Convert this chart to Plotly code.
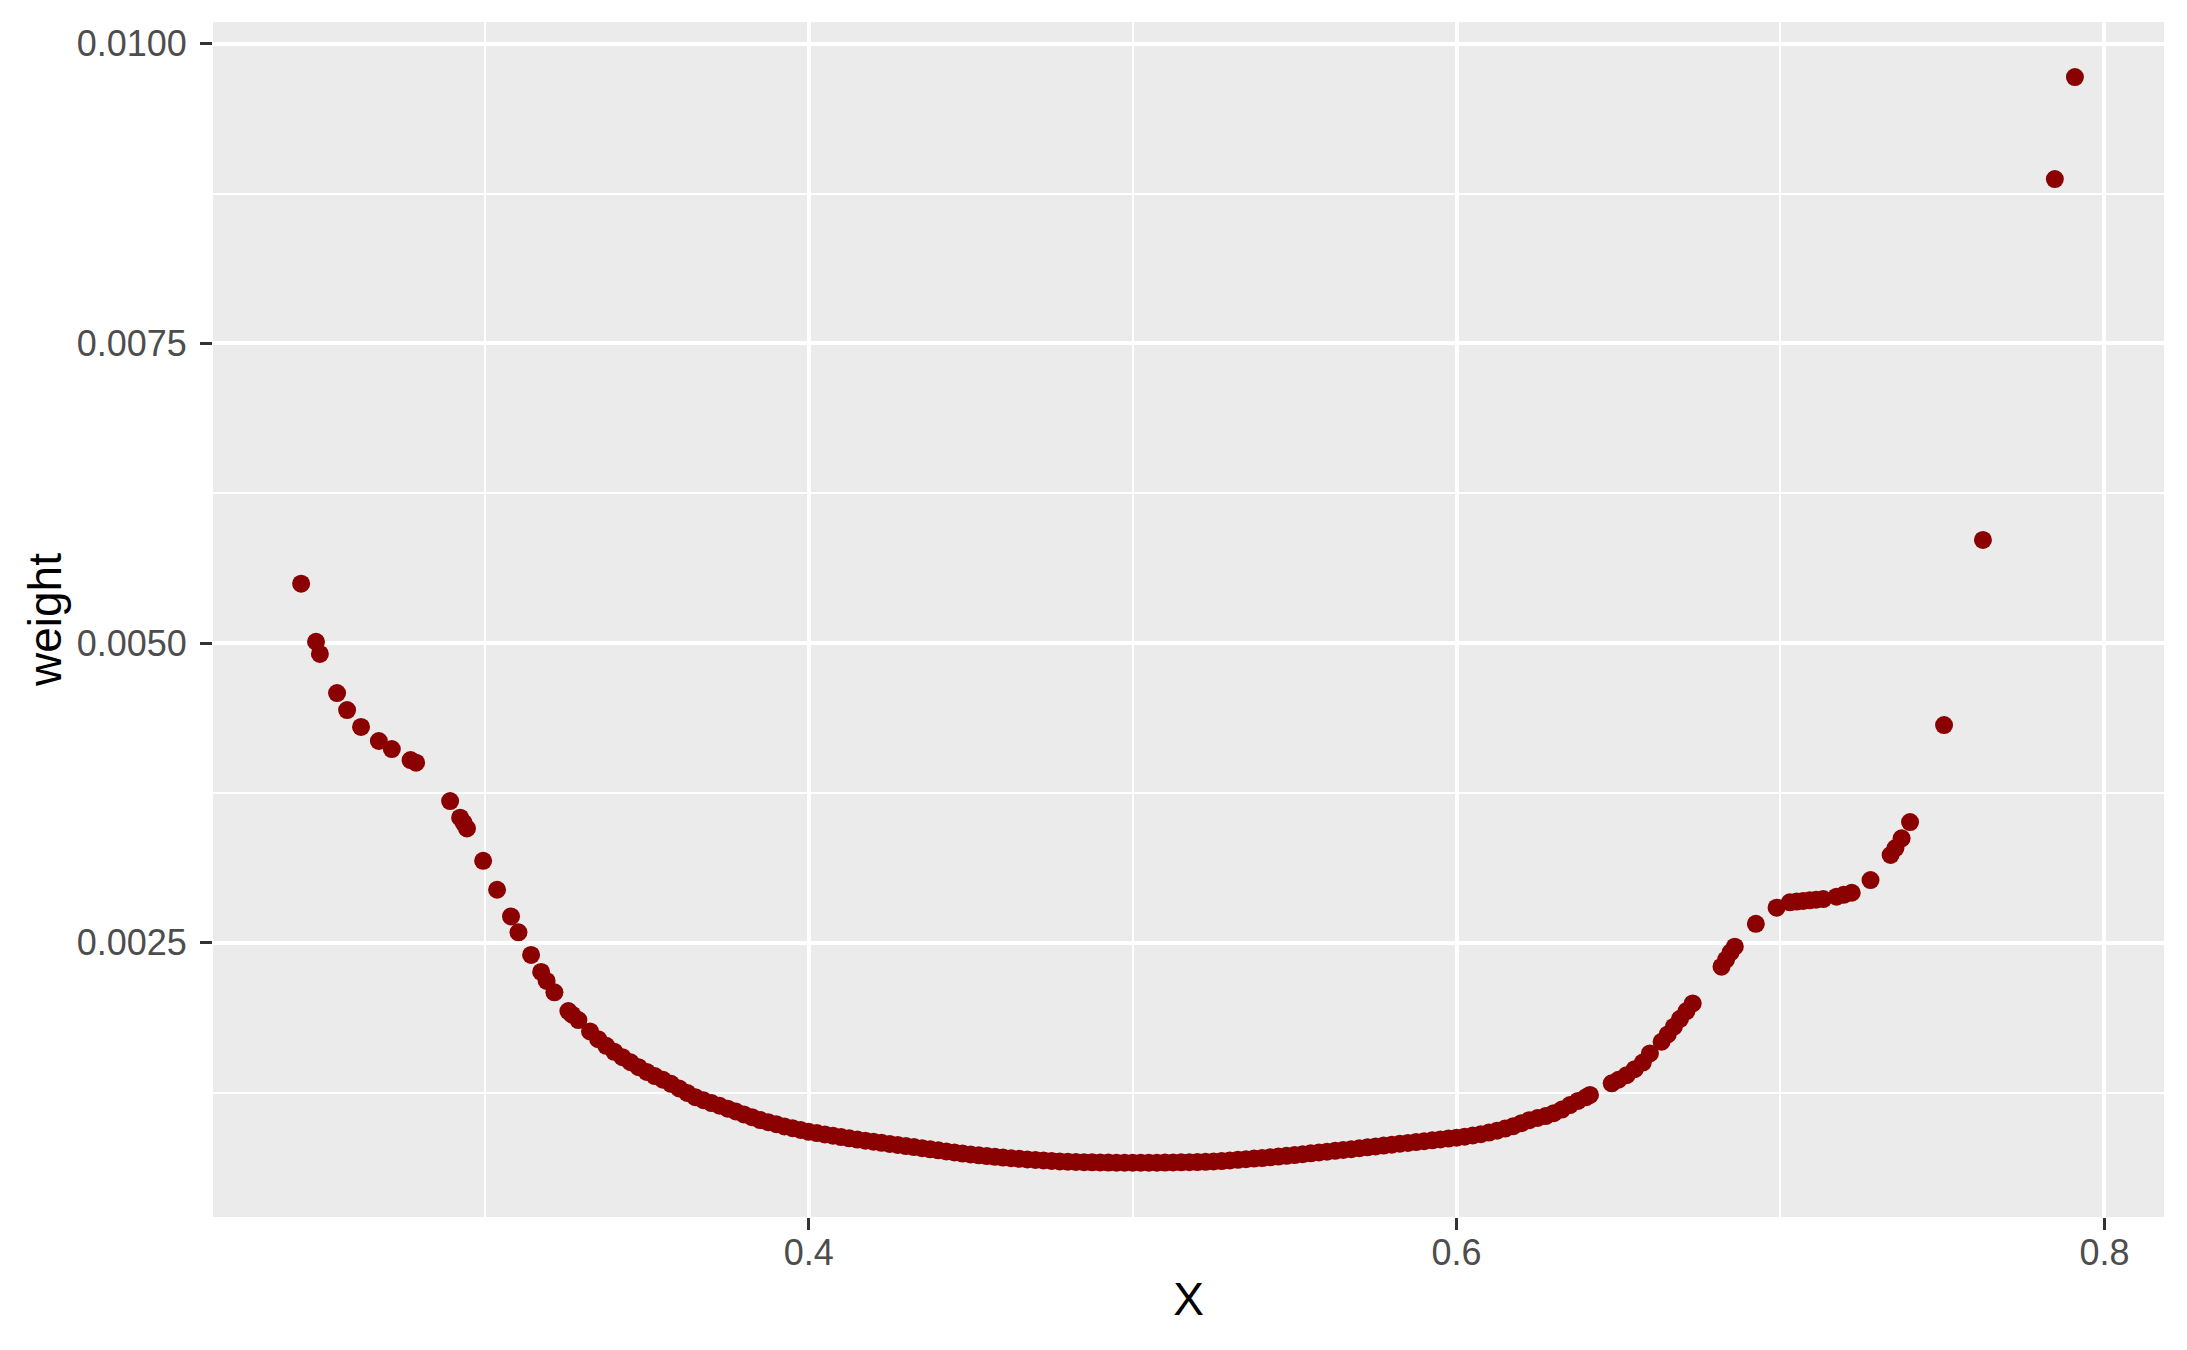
"""
Scatter of weight against X, drawn in the ggplot2 grey theme look.
"""

import plotly.graph_objects as go

# points: left tail, dense bottom, right tail
x_left = [
    0.2433, 0.2479, 0.2491, 0.2544, 0.2575, 0.2618, 0.2673, 0.2713, 0.2771, 0.2788,
    0.2893, 0.2924, 0.2935, 0.2945, 0.2995, 0.3038, 0.3081, 0.3104, 0.3143, 0.3174,
    0.3191, 0.3215, 0.3258, 0.3270, 0.3289, 0.3325,
]
w_left = [
    0.005495, 0.005011, 0.004909, 0.004583, 0.004441, 0.004300, 0.004183, 0.004116, 0.004024, 0.004002,
    0.003682, 0.003543, 0.003500, 0.003454, 0.003183, 0.002942, 0.002719, 0.002587, 0.002398, 0.002256,
    0.002181, 0.002086, 0.001930, 0.001900, 0.001855, 0.001760,
]

x_mid = [
    0.3350, 0.3375, 0.3400, 0.3425, 0.3450, 0.3475, 0.3500, 0.3525, 0.3550, 0.3575,
    0.3600, 0.3625, 0.3650, 0.3675, 0.3700, 0.3725, 0.3750, 0.3775, 0.3800, 0.3825,
    0.3850, 0.3875, 0.3900, 0.3925, 0.3950, 0.3975, 0.4000, 0.4025, 0.4050, 0.4075,
    0.4100, 0.4125, 0.4150, 0.4175, 0.4200, 0.4225, 0.4250, 0.4275, 0.4300, 0.4325,
    0.4350, 0.4375, 0.4400, 0.4425, 0.4450, 0.4475, 0.4500, 0.4525, 0.4550, 0.4575,
    0.4600, 0.4625, 0.4650, 0.4675, 0.4700, 0.4725, 0.4750, 0.4775, 0.4800, 0.4825,
    0.4850, 0.4875, 0.4900, 0.4925, 0.4950, 0.4975, 0.5000, 0.5025, 0.5050, 0.5075,
    0.5100, 0.5125, 0.5150, 0.5175, 0.5200, 0.5225, 0.5250, 0.5275, 0.5300, 0.5325,
    0.5350, 0.5375, 0.5400, 0.5425, 0.5450, 0.5475, 0.5500, 0.5525, 0.5550, 0.5575,
    0.5600, 0.5625, 0.5650, 0.5675, 0.5700, 0.5725, 0.5750, 0.5775, 0.5800, 0.5825,
    0.5850, 0.5875, 0.5900, 0.5925, 0.5950, 0.5975, 0.6000, 0.6025, 0.6050, 0.6075,
    0.6100, 0.6125, 0.6150, 0.6175, 0.6200, 0.6225, 0.6250, 0.6275, 0.6300, 0.6325,
    0.6350, 0.6375, 0.6400, 0.6412,
]
w_mid = [
    0.001695, 0.001640, 0.001590, 0.001545, 0.001503, 0.001462, 0.001422, 0.001388, 0.001357, 0.001323,
    0.001285, 0.001247, 0.001212, 0.001186, 0.001162, 0.001140, 0.001116, 0.001092, 0.001068, 0.001045,
    0.001021, 0.001003, 0.000986, 0.000968, 0.000953, 0.000938, 0.000923, 0.000912, 0.000901, 0.000890,
    0.000879, 0.000868, 0.000858, 0.000849, 0.000840, 0.000831, 0.000822, 0.000813, 0.000804, 0.000795,
    0.000786, 0.000777, 0.000768, 0.000759, 0.000750, 0.000741, 0.000734, 0.000727, 0.000720, 0.000714,
    0.000708, 0.000702, 0.000697, 0.000692, 0.000688, 0.000684, 0.000680, 0.000676, 0.000673, 0.000671,
    0.000669, 0.000668, 0.000667, 0.000666, 0.000665, 0.000665, 0.000665, 0.000665, 0.000665, 0.000665,
    0.000666, 0.000667, 0.000668, 0.000669, 0.000670, 0.000672, 0.000675, 0.000679, 0.000684, 0.000689,
    0.000694, 0.000699, 0.000704, 0.000710, 0.000716, 0.000722, 0.000729, 0.000736, 0.000743, 0.000750,
    0.000757, 0.000764, 0.000771, 0.000778, 0.000786, 0.000793, 0.000801, 0.000808, 0.000815, 0.000823,
    0.000830, 0.000837, 0.000844, 0.000852, 0.000859, 0.000866, 0.000873, 0.000882, 0.000892, 0.000903,
    0.000916, 0.000932, 0.000950, 0.000970, 0.000995, 0.001020, 0.001038, 0.001054, 0.001078, 0.001108,
    0.001146, 0.001180, 0.001212, 0.001230,
]

x_right = [
    0.6479, 0.6500, 0.6525, 0.6550, 0.6575, 0.6597,
    0.6633, 0.6652, 0.6671, 0.6690, 0.6710, 0.6729,
    0.6818, 0.6832, 0.6846, 0.6859, 0.6924, 0.6988,
    0.7029, 0.7050, 0.7070, 0.7090, 0.7110, 0.7132, 0.7173, 0.7195, 0.7220, 0.7278,
    0.7340, 0.7355, 0.7374, 0.7400, 0.7505, 0.7625, 0.7847, 0.7909,
]
w_right = [
    0.001327, 0.001357, 0.001395, 0.001445, 0.001500, 0.001577,
    0.001674, 0.001735, 0.001800, 0.001865, 0.001930, 0.001994,
    0.002300, 0.002360, 0.002420, 0.002467, 0.002658, 0.002792,
    0.002837, 0.002843, 0.002849, 0.002854, 0.002859, 0.002864, 0.002884, 0.002900, 0.002917, 0.003023,
    0.003232, 0.003290, 0.003371, 0.003507, 0.004316, 0.005860, 0.008871, 0.009722,
]

x_ticks = [0.4, 0.6, 0.8]
x_tick_labels = ["0.4", "0.6", "0.8"]
y_ticks = [0.0025, 0.0050, 0.0075, 0.0100]
y_tick_labels = ["0.0025", "0.0050", "0.0075", "0.0100"]


def make_fig():
    """
    Builds the scatter with a grey panel and white grid.
    The page body has an 8px margin, so the figure is 16px smaller
    and the margins are shifted to keep the panel where it should be.
    :return (plotly figure)
    """
    x_vals = x_left + x_mid + x_right
    weights = w_left + w_mid + w_right
    fig = go.Figure(go.Scatter(
        x=x_vals, y=weights, mode="markers",
        marker=dict(color="#8B0000", size=18, line=dict(width=0)),
        hoverinfo="x+y",
    ))

    fig.update_layout(
        width=2171, height=1334,
        margin=dict(l=205, r=15, t=14, b=125),
        paper_bgcolor="white",
        plot_bgcolor="#EBEBEB",
        font=dict(family="Liberation Sans, Arial, sans-serif", color="#4D4D4D", size=36),
        showlegend=False,
    )
    fig.update_xaxes(
        range=[0.2161, 0.8184], automargin=False,
        tickvals=x_ticks, ticktext=x_tick_labels,
        ticks="outside", ticklen=12, tickwidth=3, tickcolor="#333333",
        ticklabelstandoff=-8,
        tickfont=dict(size=36, color="#4D4D4D"),
        showgrid=True, gridcolor="white", gridwidth=3.5,
        minor=dict(tickvals=[0.3, 0.5, 0.7], showgrid=True, gridcolor="white", gridwidth=1.8, ticks=""),
        zeroline=False, showline=False,
        title=dict(text="X", font=dict(size=46, color="black"), standoff=10),
    )
    fig.update_yaxes(
        range=[0.000212, 0.010181], automargin=False,
        tickvals=y_ticks, ticktext=y_tick_labels,
        ticks="outside", ticklen=12, tickwidth=3, tickcolor="#333333",
        ticklabelstandoff=6,
        tickfont=dict(size=36, color="#4D4D4D"),
        showgrid=True, gridcolor="white", gridwidth=3.5,
        minor=dict(tickvals=[0.00125, 0.00375, 0.00625, 0.00875], showgrid=True,
                   gridcolor="white", gridwidth=1.8, ticks=""),
        zeroline=False, showline=False,
        title=dict(text="weight", font=dict(size=46, color="black"), standoff=0),
    )
    return fig


if __name__ == '__main__':
    fig = make_fig()
    fig.write_html("out.html")
